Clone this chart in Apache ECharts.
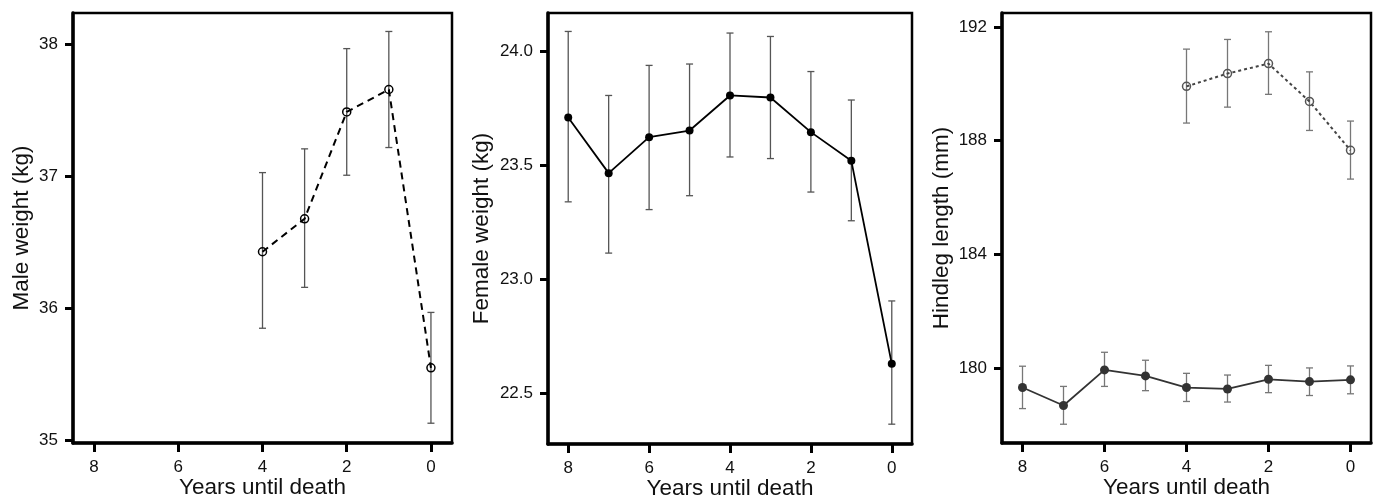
<!DOCTYPE html>
<html>
<head>
<meta charset="utf-8">
<script src="https://cdn.jsdelivr.net/npm/echarts@6/dist/echarts.min.js"></script>
<style>
html,body{margin:0;padding:0;background:#fff;}
#c{width:1376px;height:497px;}
</style>
</head>
<body>
<div id="c"></div>
<script>
// ---- data ----
var yearsAll = [8, 7, 6, 5, 4, 3, 2, 1, 0];
var yearsMale = [4, 3, 2, 1, 0];
var xTicks = [8, 6, 4, 2, 0];

// Panel 1: male weight (kg)
var maleWeight   = [36.43, 36.68, 37.49, 37.66, 35.55];
var maleWeightLo = [35.85, 36.16, 37.01, 37.22, 35.13];
var maleWeightHi = [37.03, 37.21, 37.97, 38.10, 35.97];
var maleWeightTicks = [35, 36, 37, 38];

// Panel 2: female weight (kg)
var femaleWeight   = [23.71, 23.466, 23.624, 23.653, 23.807, 23.798, 23.646, 23.52, 22.629];
var femaleWeightLo = [23.34, 23.115, 23.306, 23.367, 23.537, 23.53, 23.383, 23.257, 22.364];
var femaleWeightHi = [24.088, 23.807, 23.939, 23.945, 24.081, 24.066, 23.912, 23.787, 22.905];
var femaleWeightTicks = [22.5, 23.0, 23.5, 24.0];

// Panel 3: hindleg length (mm)
var femaleHind   = [179.32, 178.69, 179.94, 179.73, 179.32, 179.27, 179.61, 179.53, 179.59];
var femaleHindLo = [178.58, 178.03, 179.36, 179.21, 178.83, 178.81, 179.14, 179.04, 179.10];
var femaleHindHi = [180.07, 179.36, 180.56, 180.28, 179.82, 179.76, 180.10, 180.01, 180.08];
var maleHind   = [189.91, 190.36, 190.71, 189.38, 187.66];
var maleHindLo = [188.62, 189.18, 189.63, 188.36, 186.65];
var maleHindHi = [191.22, 191.56, 191.83, 190.42, 188.69];
var hindTicks = [180, 184, 188, 192];

var xName = 'Years until death';
var yNames = ['Male weight (kg)', 'Female weight (kg)', 'Hindleg length (mm)'];

// ---- helpers ----
var FONT = 'Liberation Sans, Arial, sans-serif';
function pairs(xs, ys) { return xs.map(function (x, i) { return [x, ys[i]]; }); }
function triples(xs, lo, hi) { return xs.map(function (x, i) { return [x, lo[i], hi[i]]; }); }

function errSeries(idx, xs, lo, hi, color) {
  return {
    type: 'custom', xAxisIndex: idx, yAxisIndex: idx, silent: true, z: 2,
    data: triples(xs, lo, hi),
    encode: { x: 0, y: [1, 2] },
    renderItem: function (params, api) {
      var x = api.value(0);
      var a = api.coord([x, api.value(1)]);
      var b = api.coord([x, api.value(2)]);
      var w = 3.5;
      var st = { stroke: color, lineWidth: 1.3 };
      return {
        type: 'group',
        children: [
          { type: 'line', shape: { x1: a[0], y1: a[1], x2: b[0], y2: b[1] }, style: st },
          { type: 'line', shape: { x1: a[0] - w, y1: a[1], x2: a[0] + w, y2: a[1] }, style: st },
          { type: 'line', shape: { x1: b[0] - w, y1: b[1], x2: b[0] + w, y2: b[1] }, style: st }
        ]
      };
    }
  };
}

function xAxis(idx) {
  return {
    type: 'value', gridIndex: idx, min: -0.5, max: 8.5, inverse: true,
    splitLine: { show: false },
    axisLine: { show: true, onZero: false, lineStyle: { color: '#000', width: 3.5 } },
    axisTick: { show: true, customValues: xTicks, length: 9, lineStyle: { color: '#000', width: 3 } },
    axisLabel: { customValues: xTicks, margin: 16, color: '#111', fontSize: 17, fontFamily: FONT },
    name: xName, nameLocation: 'middle', nameGap: 33, nameMoveOverlap: false,
    nameTextStyle: { color: '#111', fontSize: 22.5, fontFamily: FONT }
  };
}

function yAxis(idx, min, max, ticks, gap, dec) {
  return {
    type: 'value', gridIndex: idx, min: min, max: max,
    splitLine: { show: false },
    axisLine: { show: true, onZero: false, lineStyle: { color: '#000', width: 3.5 } },
    axisTick: { show: true, customValues: ticks, length: 8, lineStyle: { color: '#000', width: 3 } },
    axisLabel: {
      customValues: ticks, margin: 15, color: '#111', fontSize: 17, fontFamily: FONT,
      formatter: function (v) { return Number(v).toFixed(dec); }
    },
    name: yNames[idx], nameLocation: 'middle', nameGap: gap, nameRotate: 90, nameMoveOverlap: false,
    nameTextStyle: { color: '#111', fontSize: 22.5, fontFamily: FONT }
  };
}

var gridBase = { show: true, borderColor: '#000', borderWidth: 2.5, backgroundColor: 'transparent', containLabel: false, outerBoundsMode: 'none' };

var option = {
  animation: false,
  backgroundColor: '#fff',
  grid: [
    Object.assign({ left: 73, top: 13, width: 379, height: 430 }, gridBase),
    Object.assign({ left: 548, top: 13, width: 364, height: 431 }, gridBase),
    Object.assign({ left: 1002, top: 13, width: 369, height: 430 }, gridBase)
  ],
  xAxis: [xAxis(0), xAxis(1), xAxis(2)],
  yAxis: [
    yAxis(0, 34.98, 38.24, maleWeightTicks, 40, 0),
    yAxis(1, 22.277, 24.169, femaleWeightTicks, 55, 1),
    yAxis(2, 177.37, 192.49, hindTicks, 49, 0)
  ],
  series: [
    errSeries(0, yearsMale, maleWeightLo, maleWeightHi, '#555'),
    {
      type: 'line', xAxisIndex: 0, yAxisIndex: 0, z: 3,
      data: pairs(yearsMale, maleWeight),
      symbol: 'circle', symbolSize: 8,
      lineStyle: { color: '#000', width: 2, type: [7, 5] },
      itemStyle: { color: 'rgba(255,255,255,0)', borderColor: '#000', borderWidth: 1.5 }
    },
    errSeries(1, yearsAll, femaleWeightLo, femaleWeightHi, '#555'),
    {
      type: 'line', xAxisIndex: 1, yAxisIndex: 1, z: 3,
      data: pairs(yearsAll, femaleWeight),
      symbol: 'circle', symbolSize: 8,
      lineStyle: { color: '#000', width: 1.8 },
      itemStyle: { color: '#000', borderWidth: 0 }
    },
    errSeries(2, yearsAll, femaleHindLo, femaleHindHi, '#777'),
    {
      type: 'line', xAxisIndex: 2, yAxisIndex: 2, z: 3,
      data: pairs(yearsAll, femaleHind),
      symbol: 'circle', symbolSize: 9,
      lineStyle: { color: '#333', width: 1.8 },
      itemStyle: { color: '#333', borderWidth: 0 }
    },
    errSeries(2, yearsMale, maleHindLo, maleHindHi, '#777'),
    {
      type: 'line', xAxisIndex: 2, yAxisIndex: 2, z: 3,
      data: pairs(yearsMale, maleHind),
      symbol: 'circle', symbolSize: 8,
      lineStyle: { color: '#444', width: 2, type: [3, 3] },
      itemStyle: { color: 'rgba(255,255,255,0)', borderColor: '#555', borderWidth: 1.5 }
    }
  ]
};

var chart = echarts.init(document.getElementById('c'), null, { renderer: 'canvas' });
chart.setOption(option);
</script>
</body>
</html>
